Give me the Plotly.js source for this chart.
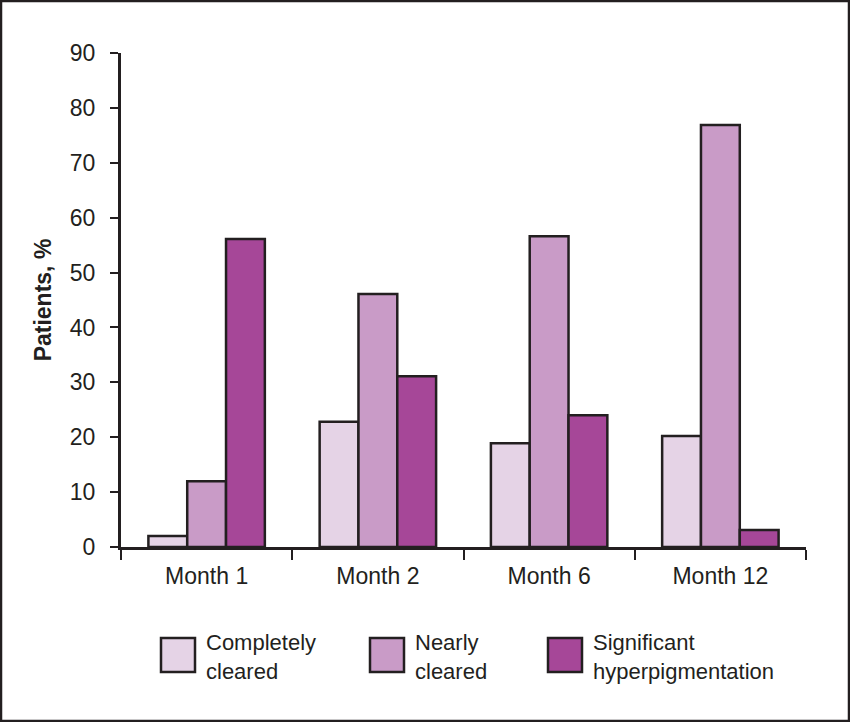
<!DOCTYPE html>
<html>
<head>
<meta charset="utf-8">
<script src="https://cdn.plot.ly/plotly-3.0.1.min.js"></script>
<style>
  html, body { margin: 0; padding: 0; background: #fff; }
  #chart { width: 850px; height: 722px; }
</style>
</head>
<body>
<div id="chart"></div>
<script>
// ---- data ----
const months = ["Month 1", "Month 2", "Month 6", "Month 12"];
const seriesNames = ["Completely<br>cleared", "Nearly<br>cleared", "Significant<br>hyperpigmentation"];
const completelyCleared = [2, 22.8, 18.9, 20.2];
const nearlyCleared = [12, 46.1, 56.6, 76.9];
const significantHyper = [56.1, 31.1, 24, 3.1];
const yTickValues = [0, 10, 20, 30, 40, 50, 60, 70, 80, 90];

// ---- styling ----
const colors = ["#E5D3E6", "#C99BC7", "#A64798"];
const ink = "#231F20";
const font = "'Liberation Sans', Arial, Helvetica, sans-serif";
const seriesValues = [completelyCleared, nearlyCleared, significantHyper];

const W = 850, H = 722;
const M = { l: 121, r: 44, t: 53, b: 175 };
const PW = W - M.l - M.r, PH = H - M.t - M.b;
const px = v => (v - M.l) / PW;
const py = v => (M.t + PH - v) / PH;

const traces = seriesValues.map((vals, i) => ({
  type: "bar",
  x: months,
  y: vals,
  name: seriesNames[i],
  marker: { color: colors[i], line: { color: ink, width: 2.5 } },
  hoverinfo: "x+y",
  showlegend: false
}));

// legend built from series names/colors
const legendX = [161, 370, 548];
const shapes = [];
const annotations = [];
seriesNames.forEach((name, i) => {
  shapes.push({
    type: "rect", xref: "paper", yref: "paper",
    x0: px(legendX[i]), x1: px(legendX[i] + 34),
    y0: py(672), y1: py(638),
    fillcolor: colors[i], line: { color: ink, width: 2.5 }
  });
  annotations.push({
    xref: "paper", yref: "paper",
    x: px(legendX[i] + 43), y: py(657),
    xanchor: "left", yanchor: "middle", align: "left",
    showarrow: false, text: name,
    font: { family: font, size: 22, color: ink }
  });
});
// outer frame
shapes.push({
  type: "rect", xref: "paper", yref: "paper",
  x0: px(1), x1: px(849), y0: py(721), y1: py(1),
  line: { color: ink, width: 2.5 }, fillcolor: "rgba(0,0,0,0)"
});

const layout = {
  width: W, height: H,
  margin: M,
  paper_bgcolor: "#fff",
  plot_bgcolor: "#fff",
  barmode: "group",
  bargap: 0.32,
  bargroupgap: 0,
  showlegend: false,
  font: { family: font, size: 23, color: ink },
  xaxis: {
    type: "category",
    range: [-0.5, 3.5],
    tickson: "boundaries",
    ticks: "outside", ticklen: 10, tickwidth: 2, tickcolor: ink,
    showline: true, linewidth: 3, linecolor: ink,
    showgrid: false, zeroline: false,
    ticklabelstandoff: 6,
    tickfont: { family: font, size: 23, color: ink }
  },
  yaxis: {
    range: [0, 90],
    tickvals: yTickValues,
    ticks: "outside", ticklen: 8, tickwidth: 2, tickcolor: ink,
    showline: true, linewidth: 3, linecolor: ink,
    showgrid: false, zeroline: false,
    ticklabelstandoff: 10,
    tickfont: { family: font, size: 23, color: ink },
    title: { text: "<b>Patients, %</b>", standoff: 12, font: { family: font, size: 23, color: ink } }
  },
  shapes: shapes,
  annotations: annotations
};

Plotly.newPlot("chart", traces, layout, { displayModeBar: false, staticPlot: true });
</script>
</body>
</html>
